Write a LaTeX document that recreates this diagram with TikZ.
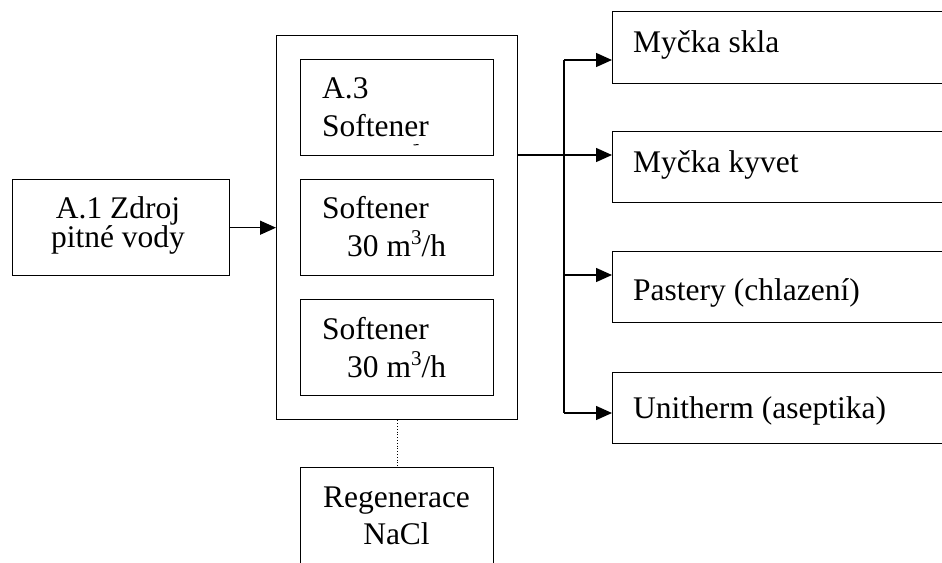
\documentclass[tikz,border=0pt]{standalone}
\usepackage{fontspec}
\setmainfont{Liberation Serif}
\usetikzlibrary{arrows.meta}
\newcommand{\cubed}{\raisebox{12pt}{\fontsize{21}{21}\selectfont 3}}
\begin{document}
\begin{tikzpicture}[x=1pt,y=-1pt,
  box/.style={draw,line width=1.4pt,inner sep=0pt,anchor=north west},
  txt/.style={inner sep=0pt,anchor=base west,font=\fontsize{31.5}{36}\selectfont},
  ctxt/.style={txt,anchor=base},
  flow/.style={line width=1.4pt,-{Triangle[length=16pt,width=14pt]}},
  wire/.style={line width=1.4pt}]
\useasboundingbox (0,0) rectangle (942,562);
\clip (0,0) rectangle (942,562);

% source
\node[box,minimum width=217pt,minimum height=96pt] (src) at (12,179) {};
\node[ctxt] (srcA) at (118,218) {A.1 Zdroj};
\node[ctxt] (srcB) at (118,247) {pitné vody};

% softener group
\node[box,minimum width=241pt,minimum height=384pt] (outer) at (276,35) {};
\node[box,minimum width=193pt,minimum height=96pt] (a3) at (300,59) {};
\node[txt] (a3A) at (322,98) {A.3};
\node[txt] (a3B) at (322,136) {Softener};
\draw[line width=1pt] (413.5,145) -- (418.5,144.5);
\node[box,minimum width=193pt,minimum height=96pt] (s2) at (300,179) {};
\node[txt] (s2A) at (322,218) {Softener};
\node[txt] (s2B) at (347,256) {30 m\cubed/h};
\node[box,minimum width=193pt,minimum height=96pt] (s3) at (300,299) {};
\node[txt] (s3A) at (322,339) {Softener};
\node[txt] (s3B) at (347,377) {30 m\cubed/h};

% regeneration
\node[box,minimum width=193pt,minimum height=130pt] (regen) at (300,467) {};
\node[ctxt] (regA) at (396.5,507) {Regenerace};
\node[ctxt] (regB) at (396.5,544) {NaCl};

% consumers
\node[box,minimum width=360pt,minimum height=72pt] (m1) at (612,11) {};
\node[txt] (m1t) at (633,52) {Myčka skla};
\node[box,minimum width=360pt,minimum height=71pt] (m2) at (612,131) {};
\node[txt] (m2t) at (633,172) {Myčka kyvet};
\node[box,minimum width=360pt,minimum height=71pt] (m3) at (612,251) {};
\node[txt] (m3t) at (633,300) {Pastery (chlazení)};
\node[box,minimum width=360pt,minimum height=71pt] (m4) at (612,372) {};
\node[txt] (m4t) at (633,418) {Unitherm (aseptika)};

% distribution bus
\coordinate (j1) at (564,60);
\coordinate (j2) at (564,155);
\coordinate (j3) at (564,275);
\coordinate (j4) at (564,413);

\draw[flow] (src.east) -- (outer.west);
\draw[wire] (j1) -- (j4);
\draw[flow] (outer.east |- j2) -- (j2 -| m2.west);
\draw[flow] (j1) -- (j1 -| m1.west);
\draw[flow] (j3) -- (j3 -| m3.west);
\draw[flow] (j4) -- (j4 -| m4.west);
\draw[line width=0.8pt,dotted] (outer.south) -- (regen.north);
\end{tikzpicture}
\end{document}
